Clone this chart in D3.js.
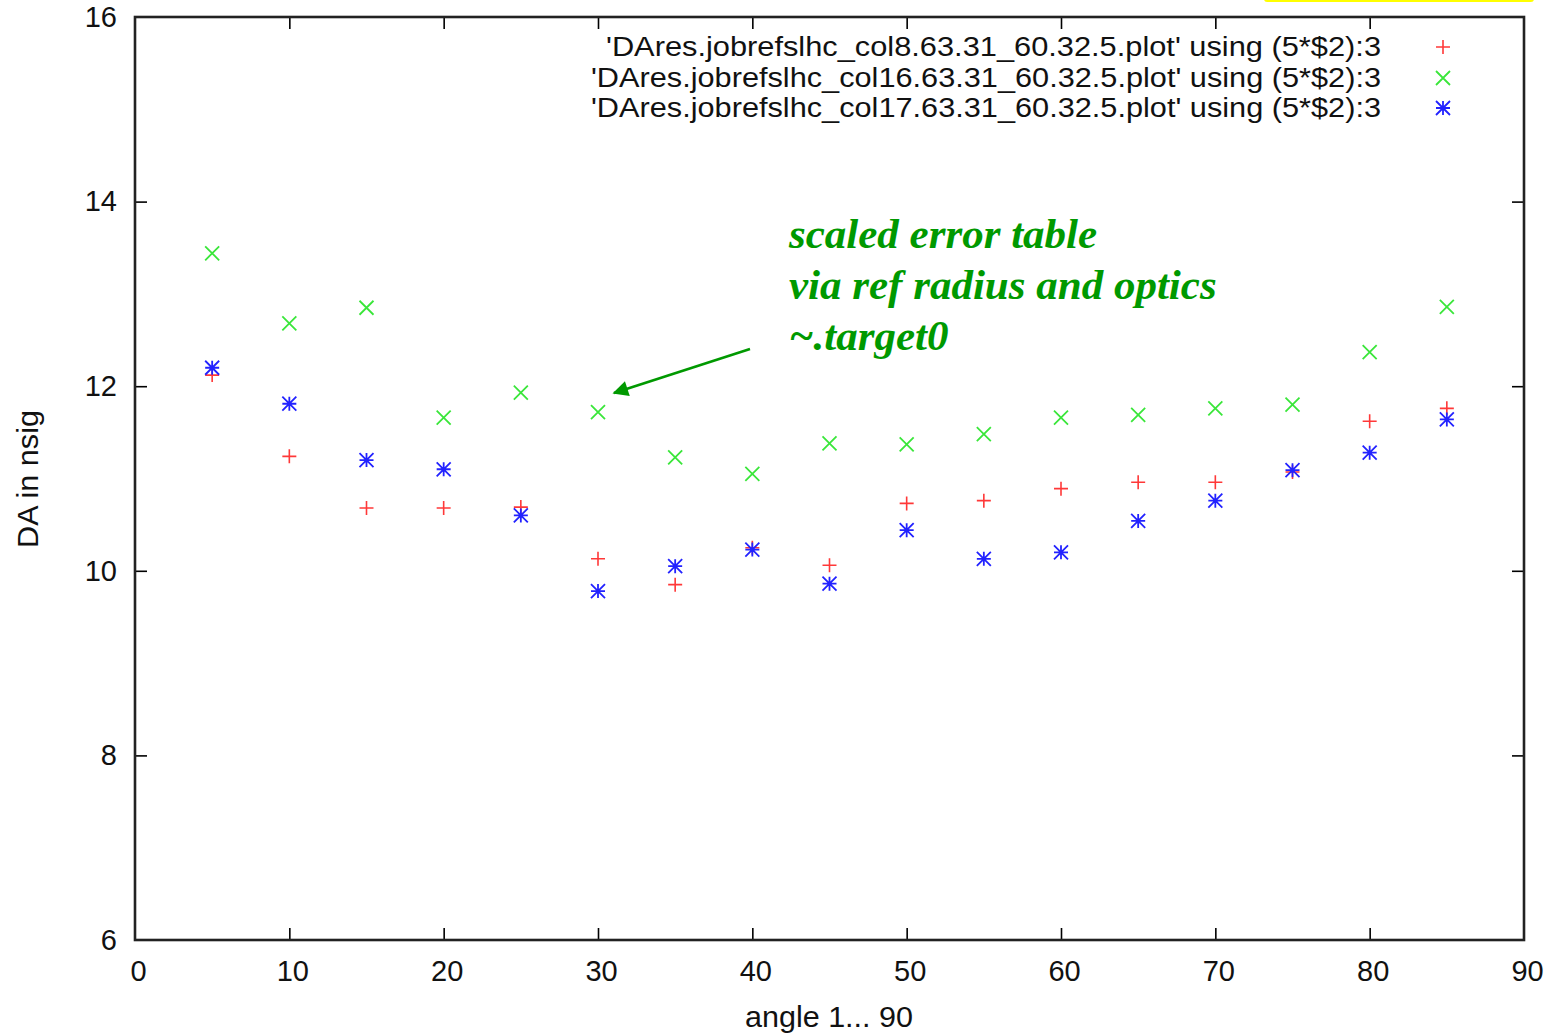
<!DOCTYPE html>
<html>
<head>
<meta charset="utf-8">
<script src="https://cdn.jsdelivr.net/npm/d3@7"></script>
<style>
html,body{margin:0;padding:0;background:#fff;}
svg{display:block;}
</style>
</head>
<body>
<svg id="chart" width="1554" height="1033"></svg>
<script>
const angles = [5,10,15,20,25,30,35,40,45,50,55,60,65,70,75,80,85];
const col8  = [12.12,11.24,10.68,10.68,10.69,10.13,9.85,10.25,10.06,10.73,10.76,10.89,10.96,10.96,11.07,11.62,11.76];
const col16 = [13.44,12.68,12.85,11.66,11.93,11.72,11.23,11.05,11.38,11.37,11.48,11.66,11.69,11.76,11.80,12.37,12.86];
const col17 = [12.20,11.81,11.20,11.10,10.60,9.78,10.05,10.23,9.86,10.44,10.13,10.20,10.54,10.76,11.09,11.28,11.64];
const xTicks = [0,10,20,30,40,50,60,70,80,90];
const yTicks = [6,8,10,12,14,16];
const seriesNames = [
  "'DAres.jobrefslhc_col8.63.31_60.32.5.plot' using (5*$2):3",
  "'DAres.jobrefslhc_col16.63.31_60.32.5.plot' using (5*$2):3",
  "'DAres.jobrefslhc_col17.63.31_60.32.5.plot' using (5*$2):3"
];
const annotationLines = ["scaled error table","via ref radius and optics","~.target0"];
const xLabel = "angle 1... 90";
const yLabel = "DA in nsig";

const svg = d3.select("#chart");
const L = 135, R = 1524, T = 17, B = 940;
const x = d3.scaleLinear().domain([0,90]).range([L,R]);
const y = d3.scaleLinear().domain([6,16]).range([B,T]);
const font = "'Liberation Sans', Arial, Helvetica, sans-serif";

// yellow strip at top right
svg.append("rect").attr("x",1264).attr("y",-6).attr("width",270).attr("height",8)
  .attr("rx",3).attr("fill","#ffff00");

// axes with inner ticks
const tk = 12;
const gB = svg.append("g").attr("transform",`translate(0,${B})`)
  .call(d3.axisBottom(x).tickValues(xTicks).tickSize(-tk).tickPadding(20).tickSizeOuter(0));
const gT = svg.append("g").attr("transform",`translate(0,${T})`)
  .call(d3.axisTop(x).tickValues(xTicks).tickSize(-tk).tickFormat("").tickSizeOuter(0));
const gL = svg.append("g").attr("transform",`translate(${L},0)`)
  .call(d3.axisLeft(y).tickValues(yTicks).tickSize(-tk).tickPadding(18).tickSizeOuter(0));
const gR = svg.append("g").attr("transform",`translate(${R},0)`)
  .call(d3.axisRight(y).tickValues(yTicks).tickSize(-tk).tickFormat("").tickSizeOuter(0));
[gB,gT,gL,gR].forEach(g=>{
  g.select(".domain").remove();
  g.selectAll(".tick line").attr("stroke","#000").attr("stroke-width",1.6);
  g.selectAll(".tick text").attr("font-family",font).attr("font-size",29).attr("fill","#111");
});
gB.selectAll(".tick text").attr("dx",3);
gB.selectAll(".tick line").filter(d=>d===0||d===90).remove();
gT.selectAll(".tick line").filter(d=>d===0||d===90).remove();
gL.selectAll(".tick line").filter(d=>d===6||d===16).remove();
gR.selectAll(".tick line").filter(d=>d===6||d===16).remove();

// frame
svg.append("rect").attr("x",L).attr("y",T).attr("width",R-L).attr("height",B-T)
  .attr("fill","none").attr("stroke","#222").attr("stroke-width",2.6);

// axis labels
svg.append("text").attr("x",829).attr("y",1027).attr("text-anchor","middle")
  .attr("font-family",font).attr("font-size",29).attr("fill","#111")
  .attr("textLength",168).attr("lengthAdjust","spacingAndGlyphs").text(xLabel);
svg.append("text").attr("transform","translate(38,479) rotate(-90)").attr("text-anchor","middle")
  .attr("font-family",font).attr("font-size",29).attr("fill","#111")
  .attr("textLength",138).attr("lengthAdjust","spacingAndGlyphs").text(yLabel);

// marker shapes
const s = 7;
function plus(g,cx,cy,c){
  g.append("path").attr("d",`M${cx-s},${cy}H${cx+s}M${cx},${cy-s}V${cy+s}`)
    .attr("stroke",c).attr("stroke-width",1.6).attr("fill","none");
}
function cross(g,cx,cy,c){
  g.append("path").attr("d",`M${cx-s},${cy-s}L${cx+s},${cy+s}M${cx-s},${cy+s}L${cx+s},${cy-s}`)
    .attr("stroke",c).attr("stroke-width",1.8).attr("fill","none");
}
function star(g,cx,cy,c){
  g.append("path").attr("d",`M${cx-s},${cy-s}L${cx+s},${cy+s}M${cx-s},${cy+s}L${cx+s},${cy-s}M${cx},${cy-s}V${cy+s}M${cx-s},${cy}H${cx+s}`)
    .attr("stroke",c).attr("stroke-width",1.8).attr("fill","none");
}
const series = [
  {vals:col8, fn:plus, color:"#ff3838"},
  {vals:col16, fn:cross, color:"#3ae63a"},
  {vals:col17, fn:star, color:"#2222ff"}
];
const gp = svg.append("g");
series.forEach(sr=>{
  angles.forEach((a,i)=> sr.fn(gp, x(a), y(sr.vals[i]), sr.color));
});

// legend
const legY = [47,78,108];
series.forEach((sr,i)=>{
  svg.append("text").attr("x",1381).attr("y",legY[i]+9).attr("text-anchor","end")
    .attr("font-family",font).attr("font-size",27).attr("fill","#111")
    .attr("textLength", i===0?775:790).attr("lengthAdjust","spacingAndGlyphs")
    .text(seriesNames[i]);
  sr.fn(svg, 1443, legY[i], sr.color);
});

// annotation
const green = "#009900";
const ann = svg.append("text").attr("font-family","'Liberation Serif', 'Times New Roman', serif")
  .attr("font-size",43).attr("font-weight","bold").attr("font-style","italic").attr("fill",green);
annotationLines.forEach((t,i)=>{
  ann.append("tspan").attr("x",789).attr("y",248+i*51).text(t);
});
svg.append("defs").append("marker").attr("id","ah").attr("viewBox","0 0 10 10")
  .attr("refX",9).attr("refY",5).attr("markerWidth",7).attr("markerHeight",6)
  .attr("markerUnits","strokeWidth").attr("orient","auto")
  .append("path").attr("d","M0,0L10,5L0,10Z").attr("fill",green);
svg.append("line").attr("x1",750).attr("y1",349).attr("x2",614).attr("y2",393)
  .attr("stroke",green).attr("stroke-width",2.6).attr("marker-end","url(#ah)");
</script>
</body>
</html>
